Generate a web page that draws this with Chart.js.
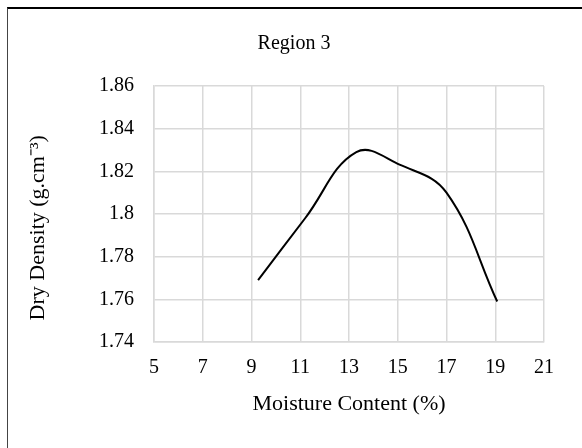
<!DOCTYPE html>
<html>
<head>
<meta charset="utf-8">
<script src="https://cdn.jsdelivr.net/npm/chart.js@4"></script>
<style>
  html, body { margin: 0; padding: 0; background: #fff; }
  #page { position: relative; width: 582px; height: 448px; overflow: hidden; }
  #frame { position: absolute; left: 7px; top: 7px; width: 580px; height: 441px;
           border-top: 2px solid #000; border-left: 1px solid #444; box-sizing: border-box; }
  #chart { position: absolute; left: 0; top: 0; }
</style>
</head>
<body>
<div id="page">
  <div id="frame"><canvas id="chart" width="580" height="441"></canvas></div>
</div>
<script>
// Region 3 compaction curve
const moisture = [9.27, 11.2, 13.3, 15.1, 17.0, 19.08];
const dryDensity = [1.769, 1.798, 1.829, 1.823, 1.810, 1.759];
const xTicks = [5, 7, 9, 11, 13, 15, 17, 19, 21];
const yTicks = [1.74, 1.76, 1.78, 1.8, 1.82, 1.84, 1.86];

const serif = 'Liberation Serif';
const gridColor = '#d9d9d9';

const ctx = document.getElementById('chart').getContext('2d');
const chart = new Chart(ctx, {
  type: 'scatter',
  data: {
    datasets: [{
      data: moisture.map((m, i) => ({ x: m, y: dryDensity[i] })),
      showLine: true,
      borderColor: '#000',
      borderWidth: 2,
      pointRadius: 0,
      tension: 0.4
    }]
  },
  options: {
    responsive: false,
    animation: false,
    // side padding keeps the chart title centred on the whole frame
    layout: { padding: { top: 0, right: 44, bottom: 0, left: 36 } },
    plugins: {
      legend: { display: false },
      tooltip: { enabled: false },
      title: {
        display: true,
        text: 'Region 3',
        color: '#000',
        font: { family: serif, size: 20, weight: 'normal', lineHeight: 1.2 },
        padding: { top: 23, bottom: 30 }
      }
    },
    scales: {
      x: {
        type: 'linear',
        min: 5,
        max: 21,
        afterBuildTicks: s => { s.ticks = xTicks.map(v => ({ value: v })); },
        afterFit: s => { s.height = 108; },
        grid: { color: gridColor, lineWidth: 1.5, drawTicks: false },
        border: { color: gridColor, width: 1.5 },
        ticks: { color: '#000', padding: 14, font: { family: serif, size: 20 } },
        title: {
          display: true,
          text: 'Moisture Content (%)',
          color: '#000',
          font: { family: serif, size: 22, lineHeight: 1.2 },
          padding: { top: 0, bottom: 33 }
        }
      },
      y: {
        type: 'linear',
        min: 1.74,
        max: 1.86,
        afterBuildTicks: s => { s.ticks = yTicks.map(v => ({ value: v })); },
        afterFit: s => { s.width = 110; },
        grid: { color: gridColor, lineWidth: 1.5, drawTicks: false },
        border: { color: gridColor, width: 1.5 },
        ticks: {
          color: '#000',
          padding: 20,
          font: { family: serif, size: 20 },
          callback: v => String(parseFloat(v.toFixed(2)))
        },
        title: {
          display: true,
          // trailing spaces nudge the rotated text down a little, as in the original
          text: 'Dry Density (g.cm\u207B\u00B3)     ',
          color: '#000',
          font: { family: serif, size: 22, lineHeight: 1.2 },
          padding: { top: -19, bottom: 0 }
        }
      }
    }
  }
});
</script>
</body>
</html>
